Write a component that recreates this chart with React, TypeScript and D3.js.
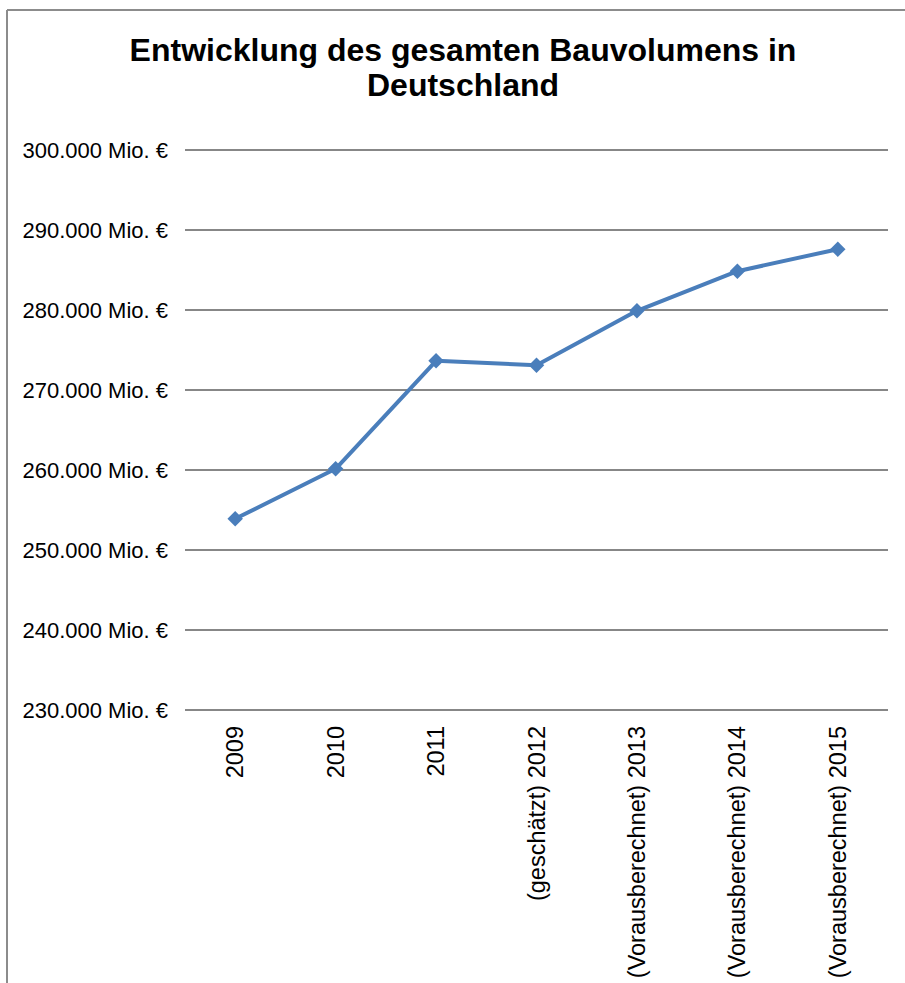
import React from "react";
import * as d3 from "d3";

const categories = [
  "2009",
  "2010",
  "2011",
  "(geschätzt) 2012",
  "(Vorausberechnet) 2013",
  "(Vorausberechnet) 2014",
  "(Vorausberechnet) 2015",
];
const values = [253900, 260150, 273650, 273100, 279900, 284850, 287600];
const yTicks = [230000, 240000, 250000, 260000, 270000, 280000, 290000, 300000];
const titleLines = ["Entwicklung des gesamten Bauvolumens in", "Deutschland"];

const W = 905;
const H = 983;
const plot = { left: 185, right: 888, top: 150, bottom: 710 };
const font = "Liberation Sans, Arial, sans-serif";

export default function App() {
  const x = d3
    .scaleBand<string>()
    .domain(categories)
    .range([plot.left, plot.right])
    .paddingInner(0)
    .paddingOuter(0);
  const y = d3.scaleLinear().domain([230000, 300000]).range([plot.bottom, plot.top]);
  const cx = (c: string) => (x(c) as number) + x.bandwidth() / 2;
  const fmt = (v: number) => d3.format(",")(v).replace(/,/g, ".") + " Mio. €";

  const line = d3
    .line<number>()
    .x((_, i) => cx(categories[i]))
    .y((d) => y(d));

  const square = d3.symbol().type(d3.symbolSquare).size(120)();

  return (
    <svg
      width={W}
      height={H}
      style={{ position: "absolute", left: 0, top: 0, background: "#fff" }}
    >
      <rect x={0} y={0} width={W} height={H} fill="#fff" />
      {/* chart border */}
      <line x1={7} y1={10} x2={W} y2={10} stroke="#8c8c8c" strokeWidth={2} />
      <line x1={7} y1={10} x2={7} y2={H} stroke="#8c8c8c" strokeWidth={2} />

      {/* title */}
      {titleLines.map((t, i) => (
        <text
          key={i}
          x={463}
          y={61 + i * 35}
          textAnchor="middle"
          fontFamily={font}
          fontWeight="bold"
          fontSize={32}
          fill="#000"
        >
          {t}
        </text>
      ))}

      {/* gridlines */}
      {yTicks.map((t) => (
        <line
          key={t}
          x1={plot.left}
          x2={plot.right}
          y1={y(t)}
          y2={y(t)}
          stroke="#878787"
          strokeWidth={1.8}
        />
      ))}

      {/* y labels */}
      {yTicks.map((t) => (
        <text
          key={"l" + t}
          x={168}
          y={y(t) + 8}
          textAnchor="end"
          fontFamily={font}
          fontSize={22}
          fill="#000"
        >
          {fmt(t)}
        </text>
      ))}

      {/* x labels */}
      {categories.map((c) => (
        <text
          key={c}
          transform={`translate(${cx(c) + 8},${plot.bottom + 16}) rotate(-90)`}
          textAnchor="end"
          fontFamily={font}
          fontSize={23.5}
          fill="#000"
        >
          {c}
        </text>
      ))}

      {/* line */}
      <path d={line(values) || ""} fill="none" stroke="#4a7ebb" strokeWidth={4} strokeLinejoin="round" />
      {values.map((v, i) => (
        <path
          key={i}
          d={square || ""}
          transform={`translate(${cx(categories[i])},${y(v)}) rotate(45)`}
          fill="#4a7ebb"
        />
      ))}
    </svg>
  );
}
